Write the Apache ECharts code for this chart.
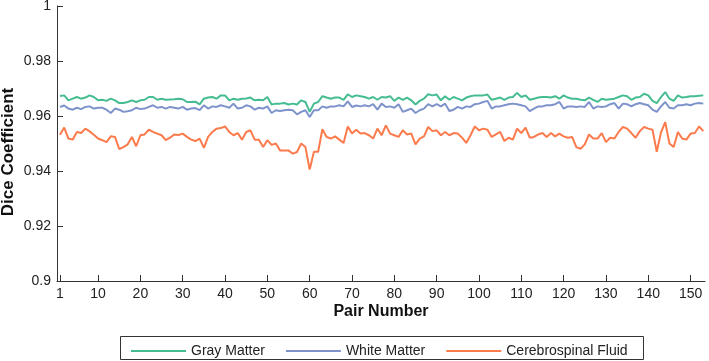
<!DOCTYPE html>
<html>
<head>
<meta charset="utf-8">
<script src="https://cdn.jsdelivr.net/npm/echarts@6/dist/echarts.min.js"></script>
<style>
  html, body { margin: 0; padding: 0; background: #fff; }
  #chart { width: 709px; height: 361px; }
</style>
</head>
<body>
<div id="chart"></div>
<script>
// values, pairs 1..153
const grayMatter = [
  0.9673, 0.9675, 0.9657, 0.9663, 0.9669, 0.9663, 0.9667, 0.9675, 0.9669, 0.9657,
  0.9659, 0.9655, 0.9663, 0.9657, 0.9647, 0.9647, 0.9651, 0.9657, 0.9651, 0.9657,
  0.9659, 0.9669, 0.9669, 0.9659, 0.9663, 0.9659, 0.9660, 0.9661, 0.9663, 0.9661,
  0.9651, 0.9651, 0.9652, 0.9642, 0.9663, 0.9667, 0.9669, 0.9663, 0.9675, 0.9675,
  0.9657, 0.9663, 0.9659, 0.9663, 0.9664, 0.9667, 0.9657, 0.9659, 0.9657, 0.9669,
  0.9642, 0.9645, 0.9645, 0.9647, 0.9642, 0.9645, 0.9642, 0.9657, 0.9651, 0.9615,
  0.9645, 0.9651, 0.9672, 0.9667, 0.9663, 0.9667, 0.9667, 0.9659, 0.9679, 0.9669,
  0.9675, 0.9672, 0.9669, 0.9663, 0.9669, 0.9659, 0.9669, 0.9667, 0.9672, 0.9655,
  0.9667, 0.9659, 0.9667, 0.9657, 0.9642, 0.9655, 0.9663, 0.9679, 0.9675, 0.9678,
  0.9657, 0.9672, 0.9659, 0.9669, 0.9663, 0.9657, 0.9667, 0.9672, 0.9675, 0.9675,
  0.9675, 0.9678, 0.9659, 0.9663, 0.9667, 0.9659, 0.9667, 0.9669, 0.9684, 0.9669,
  0.9675, 0.9659, 0.9663, 0.9667, 0.9669, 0.9669, 0.9667, 0.9672, 0.9663, 0.9675,
  0.9667, 0.9663, 0.9663, 0.9659, 0.9657, 0.9667, 0.9659, 0.9651, 0.9663, 0.9659,
  0.9661, 0.9663, 0.9669, 0.9675, 0.9672, 0.9659, 0.9667, 0.9669, 0.9681, 0.9675,
  0.9655, 0.9647, 0.9669, 0.9687, 0.9663, 0.9655, 0.9675, 0.9667, 0.9669, 0.9672,
  0.9672, 0.9674, 0.9675
]
const whiteMatter = [
  0.9633, 0.9638, 0.9627, 0.9623, 0.9630, 0.9625, 0.9633, 0.9635, 0.9627, 0.9630,
  0.9630, 0.9623, 0.9611, 0.9627, 0.9623, 0.9615, 0.9617, 0.9621, 0.9630, 0.9625,
  0.9627, 0.9633, 0.9639, 0.9630, 0.9633, 0.9627, 0.9633, 0.9630, 0.9627, 0.9633,
  0.9623, 0.9627, 0.9629, 0.9621, 0.9639, 0.9627, 0.9635, 0.9633, 0.9639, 0.9635,
  0.9630, 0.9645, 0.9627, 0.9630, 0.9639, 0.9635, 0.9623, 0.9630, 0.9627, 0.9635,
  0.9611, 0.9621, 0.9618, 0.9621, 0.9623, 0.9621, 0.9606, 0.9615, 0.9621, 0.9596,
  0.9621, 0.9621, 0.9635, 0.9630, 0.9635, 0.9635, 0.9639, 0.9635, 0.9653, 0.9633,
  0.9638, 0.9635, 0.9639, 0.9635, 0.9643, 0.9623, 0.9645, 0.9633, 0.9635, 0.9630,
  0.9643, 0.9615, 0.9621, 0.9627, 0.9611, 0.9621, 0.9627, 0.9643, 0.9635, 0.9643,
  0.9635, 0.9645, 0.9618, 0.9623, 0.9633, 0.9627, 0.9635, 0.9633, 0.9643, 0.9645,
  0.9651, 0.9655, 0.9627, 0.9635, 0.9635, 0.9639, 0.9643, 0.9645, 0.9643, 0.9639,
  0.9635, 0.9618, 0.9627, 0.9635, 0.9635, 0.9639, 0.9639, 0.9643, 0.9651, 0.9627,
  0.9635, 0.9635, 0.9633, 0.9635, 0.9633, 0.9651, 0.9627, 0.9635, 0.9633, 0.9635,
  0.9643, 0.9647, 0.9627, 0.9645, 0.9643, 0.9635, 0.9643, 0.9647, 0.9643, 0.9639,
  0.9623, 0.9615, 0.9635, 0.9651, 0.9630, 0.9627, 0.9639, 0.9639, 0.9643, 0.9639,
  0.9645, 0.9647, 0.9645
]
const csf = [
  0.9532, 0.9558, 0.9518, 0.9514, 0.9542, 0.9538, 0.9554, 0.9544, 0.9532, 0.9518,
  0.9512, 0.9505, 0.9526, 0.9524, 0.9480, 0.9487, 0.9497, 0.9524, 0.9490, 0.9530,
  0.9533, 0.9550, 0.9542, 0.9536, 0.9530, 0.9512, 0.9521, 0.9533, 0.9531, 0.9536,
  0.9524, 0.9514, 0.9509, 0.9518, 0.9484, 0.9524, 0.9542, 0.9554, 0.9556, 0.9562,
  0.9542, 0.9530, 0.9538, 0.9514, 0.9542, 0.9548, 0.9514, 0.9514, 0.9487, 0.9512,
  0.9495, 0.9500, 0.9475, 0.9475, 0.9475, 0.9463, 0.9469, 0.9500, 0.9487, 0.9405,
  0.9470, 0.9470, 0.9552, 0.9524, 0.9518, 0.9526, 0.9514, 0.9502, 0.9562, 0.9536,
  0.9550, 0.9536, 0.9538, 0.9530, 0.9518, 0.9554, 0.9530, 0.9566, 0.9536, 0.9530,
  0.9524, 0.9548, 0.9533, 0.9536, 0.9497, 0.9518, 0.9526, 0.9560, 0.9545, 0.9548,
  0.9530, 0.9542, 0.9530, 0.9538, 0.9536, 0.9521, 0.9502, 0.9530, 0.9562, 0.9548,
  0.9554, 0.9550, 0.9524, 0.9533, 0.9542, 0.9509, 0.9521, 0.9514, 0.9554, 0.9538,
  0.9558, 0.9521, 0.9524, 0.9533, 0.9538, 0.9524, 0.9538, 0.9526, 0.9536, 0.9526,
  0.9521, 0.9524, 0.9487, 0.9481, 0.9497, 0.9533, 0.9518, 0.9518, 0.9538, 0.9505,
  0.9521, 0.9518, 0.9542, 0.9560, 0.9554, 0.9538, 0.9521, 0.9545, 0.9560, 0.9554,
  0.9550, 0.9470, 0.9540, 0.9578, 0.9500, 0.9487, 0.9542, 0.9518, 0.9514, 0.9536,
  0.9538, 0.9562, 0.9545
]
const seriesNames = ['Gray Matter', 'White Matter', 'Cerebrospinal Fluid']
const seriesColors = ['#45bd90', '#7e93cc', '#fb7b4d']
const xTickLabels = [1, 10, 20, 30, 40, 50, 60, 70, 80, 90, 100, 110, 120, 130, 140, 150]
const yTickLabels = [0.9, 0.92, 0.94, 0.96, 0.98, 1]

const font = '"Liberation Sans", Arial, sans-serif'

function toPairs (arr) {
  return arr.map((v, i) => [i + 1, v])
}

const chart = echarts.init(document.getElementById('chart'))
const allData = [grayMatter, whiteMatter, csf]

chart.setOption({
  animation: false,
  color: seriesColors,
  grid: { left: 57, right: 4, top: 6, bottom: 80, outerBoundsMode: 'none' },
  legend: {
    data: seriesNames,
    left: 126,
    top: 339,
    icon: 'rect',
    itemWidth: 55,
    itemHeight: 2,
    itemGap: 21,
    textStyle: { fontFamily: font, fontSize: 14, color: '#222' }
  },
  graphic: [{
    type: 'rect',
    shape: { x: 120.5, y: 336.5, width: 523, height: 23 },
    style: { fill: 'none', stroke: '#333', lineWidth: 1 }
  }, {
    // y axis title, kept clear of the tick labels
    type: 'text',
    x: 8,
    y: 152,
    rotation: Math.PI / 2,
    style: {
      text: 'Dice Coefficient',
      font: 'bold 17px ' + font,
      fill: '#111',
      align: 'center',
      verticalAlign: 'middle'
    }
  }],
  xAxis: {
    type: 'value',
    min: 0.3,
    max: 153.4,
    name: 'Pair Number',
    nameLocation: 'middle',
    nameGap: 23,
    nameMoveOverlap: false,
    nameTextStyle: { fontFamily: font, fontSize: 16, fontWeight: 'bold', color: '#111' },
    splitLine: { show: false },
    axisLine: { lineStyle: { color: '#333', width: 1 } },
    axisTick: { inside: true, length: 6, customValues: xTickLabels, lineStyle: { color: '#333' } },
    axisLabel: { customValues: xTickLabels, fontFamily: font, fontSize: 14, color: '#222', margin: 6 }
  },
  yAxis: {
    type: 'value',
    min: 0.9,
    max: 1,
    interval: 0.02,
    splitLine: { show: false },
    axisLine: { show: true, lineStyle: { color: '#333', width: 1 } },
    axisTick: { inside: true, length: 6, lineStyle: { color: '#333' } },
    axisLabel: {
      fontFamily: font, fontSize: 14, color: '#222', margin: 6,
      formatter: v => String(+v.toFixed(2))
    }
  },
  series: seriesNames.map((name, k) => ({
    name: name,
    type: 'line',
    data: toPairs(allData[k]),
    showSymbol: false,
    lineStyle: { width: 2 }
  }))
})
</script>
</body>
</html>
